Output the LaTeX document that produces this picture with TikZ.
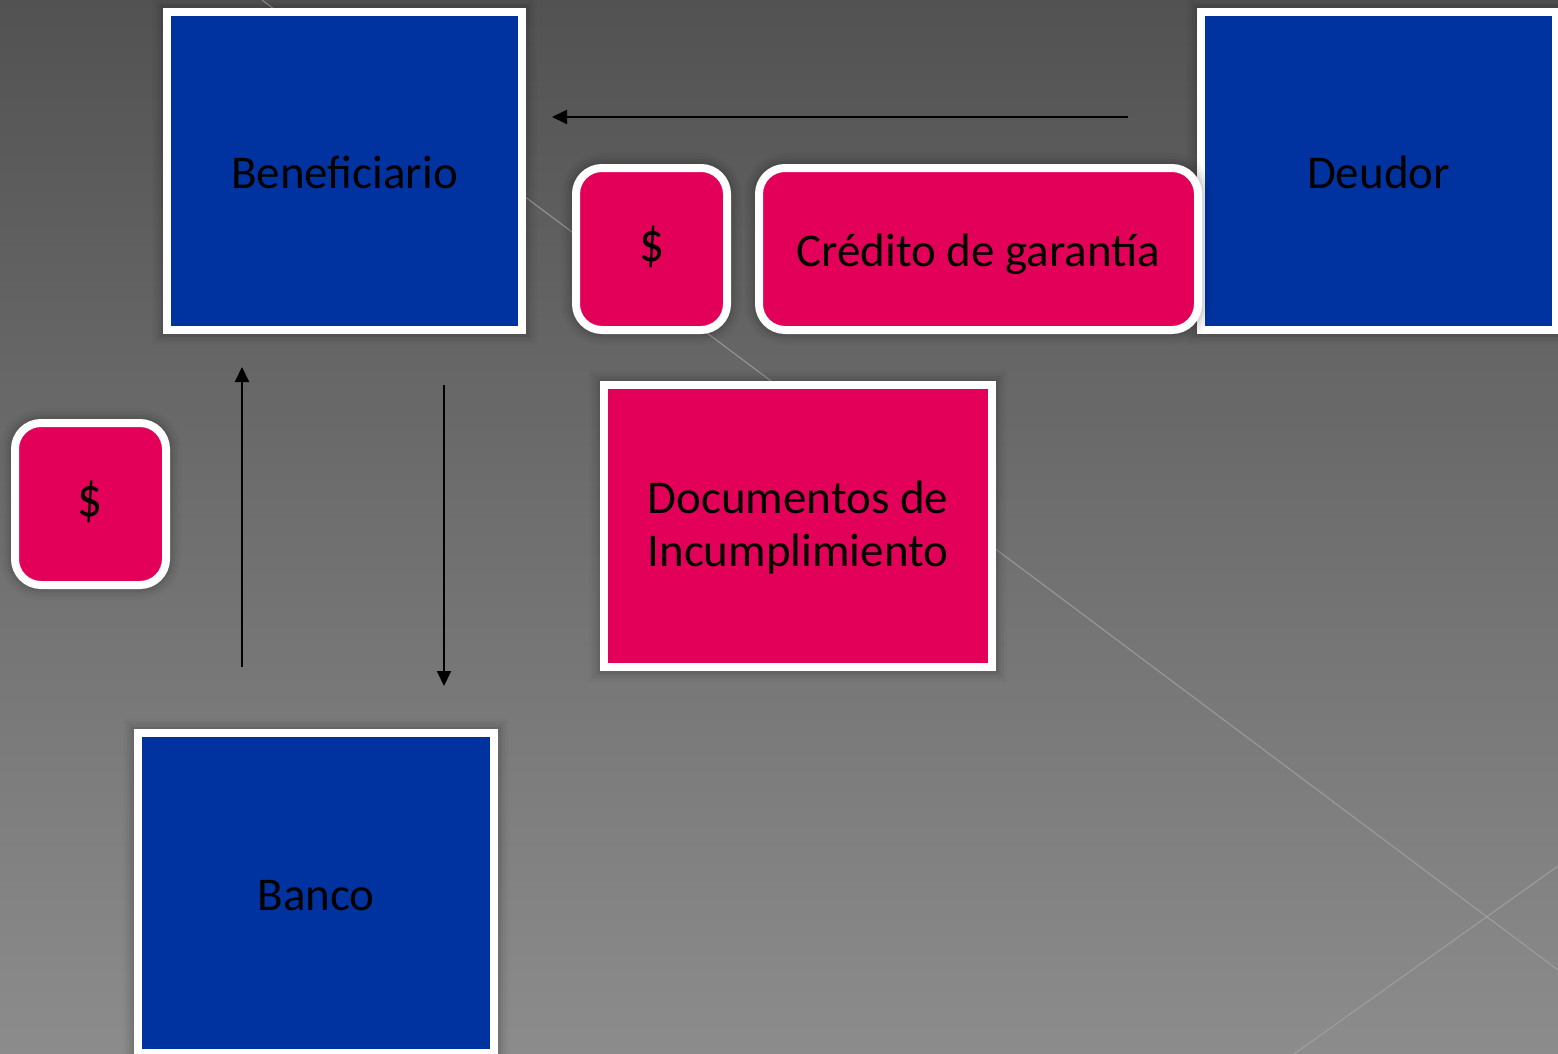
\documentclass[tikz,border=0pt]{standalone}
\usepackage{fontspec}
\usepackage{graphicx}
\setmainfont{Carlito}
\usetikzlibrary{arrows.meta}
\definecolor{boxblue}{RGB}{0,51,160}
\definecolor{boxpink}{RGB}{227,0,88}
\definecolor{bgtop}{RGB}{82,82,82}
\definecolor{bgbot}{RGB}{140,140,140}
\definecolor{linegray}{RGB}{165,165,165}
\newcommand{\tallDollar}{\scalebox{1.05}[1.2]{\$}}
\begin{document}
\begin{tikzpicture}[x=1pt,y=-1pt,
  halo/.style={
    preaction={draw=black,draw opacity=0.025,line width=30pt},
    preaction={draw=black,draw opacity=0.035,line width=24pt},
    preaction={draw=black,draw opacity=0.045,line width=18pt},
    preaction={draw=black,draw opacity=0.06,line width=13pt}},
  basebox/.style={halo,rectangle,draw=white,line width=8pt,inner sep=0pt,
    text=black,font=\fontsize{47}{52.7}\selectfont},
  oneline/.style={text height=39pt,text depth=5pt},
  party/.style={basebox,oneline,fill=boxblue,minimum width=355pt,minimum height=318pt},
  pinkbox/.style={basebox,fill=boxpink},
  roundbox/.style={pinkbox,rounded corners=26pt,minimum height=162pt},
  dollarbox/.style={roundbox,minimum width=151pt,text height=34pt,text depth=9pt},
  flow/.style={draw=black,line width=2pt,-{Triangle[length=15pt,width=14pt]}},
  diag/.style={draw=linegray,line width=1.2pt,draw opacity=0.7}
]
\clip (0,0) rectangle (1558,1054);
\useasboundingbox (0,0) rectangle (1558,1054);
\shade[top color=bgtop,bottom color=bgbot] (0,0) rectangle (1558,1054);
% faint diagonal lines of the background
\draw[diag] (262,0) -- (1558,970);
\draw[diag] (1294,1054) -- (1558,866);

% nodes
\node[party] (deudor) at (1378.5,171) {Deudor};
\node[party] (benef) at (344.5,171) {Beneficiario};
\node[dollarbox] (dollar1) at (651.5,249) {\tallDollar};
\node[roundbox,oneline,minimum width=439pt] (credito) at (978.5,249) {Crédito de garantía};
\node[pinkbox,minimum width=388pt,minimum height=282pt] (docs) at (798,526)
  {\raisebox{-40.6pt}[30pt][30pt]{\begin{tabular}[b]{@{}c@{}}Documentos de\\Incumplimiento\end{tabular}}};
\node[dollarbox] (dollar2) at (90.5,504) {\tallDollar};
\node[party,minimum width=356pt,minimum height=320pt] (banco) at (316,893) {Banco};

% connectors
\coordinate (hA) at (1128,117);
\coordinate (hB) at (552,117);
\coordinate (uA) at (242,667);
\coordinate (uB) at (242,367);
\coordinate (dA) at (444,385);
\coordinate (dB) at (444,686);
\draw[flow] (hA) -- (hB);
\draw[flow] (uA) -- (uB);
\draw[flow] (dA) -- (dB);
\end{tikzpicture}
\end{document}
